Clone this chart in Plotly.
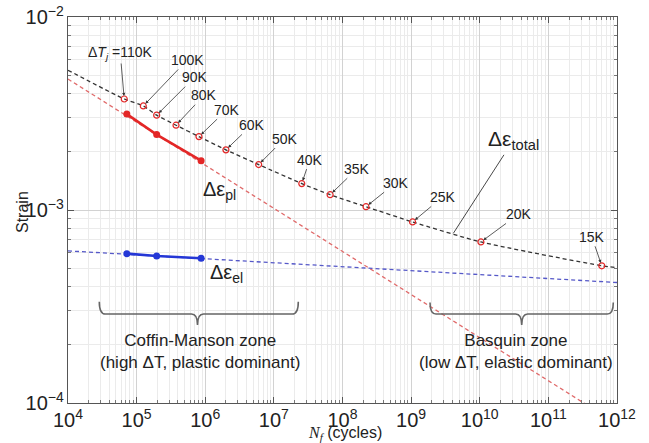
import numpy as np
import plotly.graph_objects as go

# ---------------- data ----------------
dT_labels = ["110K", "100K", "90K", "80K", "70K", "60K", "50K", "40K",
             "35K", "30K", "25K", "20K", "15K"]
Nf_total = [6.6e4, 1.25e5, 1.96e5, 3.75e5, 8.1e5, 2.0e6, 6.0e6, 2.55e7,
            6.6e7, 2.2e8, 1.05e9, 1.04e10, 6.0e11]
eps_total = [3.76e-3, 3.46e-3, 3.10e-3, 2.75e-3, 2.40e-3, 2.05e-3, 1.72e-3,
             1.37e-3, 1.20e-3, 1.04e-3, 8.67e-4, 6.83e-4, 5.14e-4]

Nf_meas = [7.2e4, 1.96e5, 8.7e5]
eps_pl = [3.14e-3, 2.46e-3, 1.80e-3]
eps_el = [5.94e-4, 5.78e-4, 5.62e-4]

fit_N = [1e4, 1e12]
fit_pl = [4.77e-3, 7.8e-5]
fit_el = [6.14e-4, 4.21e-4]
total_end_N = [1e4, 1e12]
total_end_eps = [5.30e-3, 5.03e-4]

total_pointer = (4.12e9, 7.57e-4)

# ---------------- layout constants ----------------
W, H = 649, 443
ML, MR, MT, MB = 68, 32, 17, 40
PW, PH = W - ML - MR, H - MT - MB


def px(x):
    return (x - ML) / PW


def py(y):
    return (H - MB - y) / PH


SANS = "Liberation Sans, Arial, sans-serif"

RED = "#e32626"
RED_DASH = "#e06a6a"
BLUE = "#2437d6"
BLUE_DASH = "#5558c8"
BLACK_DASH = "#333333"

fig = go.Figure()

# fitted curves (dashed)
fig.add_trace(go.Scatter(x=fit_N, y=fit_pl, mode="lines",
                         line=dict(color=RED_DASH, width=1.3, dash="4px,3px"),
                         showlegend=False, hoverinfo="skip"))
fig.add_trace(go.Scatter(x=fit_N, y=fit_el, mode="lines",
                         line=dict(color=BLUE_DASH, width=1.3, dash="4px,3px"),
                         showlegend=False, hoverinfo="skip"))
tot_x = [total_end_N[0]] + Nf_total + [total_end_N[1]]
tot_y = [total_end_eps[0]] + eps_total + [total_end_eps[1]]
fig.add_trace(go.Scatter(x=tot_x, y=tot_y, mode="lines",
                         line=dict(color=BLACK_DASH, width=1.3, dash="4px,3px",
                                   shape="spline", smoothing=0.6),
                         showlegend=False, hoverinfo="skip"))

# measured plastic / elastic
fig.add_trace(go.Scatter(x=Nf_meas, y=eps_pl, mode="lines+markers",
                         line=dict(color=RED, width=2.6),
                         marker=dict(color=RED, size=7),
                         showlegend=False))
fig.add_trace(go.Scatter(x=Nf_meas, y=eps_el, mode="lines+markers",
                         line=dict(color=BLUE, width=2.6),
                         marker=dict(color=BLUE, size=7),
                         showlegend=False))

# total strain markers
fig.add_trace(go.Scatter(x=Nf_total, y=eps_total, mode="markers",
                         marker=dict(symbol="circle-open", color=RED, size=6,
                                     line=dict(width=1.2, color=RED)),
                         showlegend=False))

# ---------------- annotations ----------------
offsets = [(-4, -46), (44, -46), (38, -38), (28, -30), (28, -27), (26, -25),
           (26, -26), (8, -24), (27, -26), (30, -24), (30, -25), (38, -28),
           (-10, -29)]
annotations = []
for i, (lab, n, e) in enumerate(zip(dT_labels, Nf_total, eps_total)):
    text = lab
    if i == 0:
        text = "Δ<i>T<sub>j</sub></i> =" + lab
    ax, ay = offsets[i]
    annotations.append(dict(
        x=np.log10(n), y=np.log10(e), xref="x", yref="y",
        text=text, showarrow=True, ax=ax, ay=ay,
        arrowhead=2, arrowsize=0.8, arrowwidth=0.8, arrowcolor="#333",
        standoff=3,
        font=dict(family=SANS, size=14, color="#222")))

annotations.append(dict(
    x=np.log10(total_pointer[0]), y=np.log10(total_pointer[1]), xref="x", yref="y",
    text="Δε<sub>total</sub>", showarrow=True, ax=60, ay=-93,
    arrowhead=0, arrowwidth=0.9, arrowcolor="#333",
    font=dict(family=SANS, size=21, color="#222")))


def ptext(x, y, text, size, **kw):
    d = dict(x=px(x), y=py(y), xref="paper", yref="paper", text=text,
             showarrow=False, xanchor="center", yanchor="middle",
             font=dict(family=SANS, size=size, color="#222"))
    d.update(kw)
    return d


annotations.append(ptext(219, 190, "Δε<sub>pl</sub>", 20))
annotations.append(ptext(226, 273, "Δε<sub>el</sub>", 20))
annotations.append(ptext(200, 351, "Coffin-Manson zone<br>(high ΔT, plastic dominant)", 17,
                         align="center"))
annotations.append(ptext(516, 351, "Basquin zone<br>(low ΔT, elastic dominant)", 17,
                         align="center"))
annotations.append(ptext(22, 212, "Strain", 16, textangle=-90))
annotations.append(ptext(345, 433,
                         "<span style='font-family:Liberation Serif'><i>N<sub>f</sub></i></span> (cycles)",
                         16))


def brace(x0, x1, xc, ytop, yh, ytip, r=6):
    return (f"M {px(x0)},{py(ytop)} Q {px(x0)},{py(yh)} {px(x0 + r)},{py(yh)} "
            f"L {px(xc - r)},{py(yh)} Q {px(xc)},{py(yh)} {px(xc)},{py(ytip)} "
            f"M {px(xc)},{py(ytip)} Q {px(xc)},{py(yh)} {px(xc + r)},{py(yh)} "
            f"L {px(x1 - r)},{py(yh)} Q {px(x1)},{py(yh)} {px(x1)},{py(ytop)}")


shapes = [
    dict(type="path", xref="paper", yref="paper",
         path=brace(99.3, 298.3, 197.5, 301.7, 314, 325),
         line=dict(color="#666", width=1.6)),
    dict(type="path", xref="paper", yref="paper",
         path=brace(430, 613.3, 521.7, 302.5, 314, 325),
         line=dict(color="#666", width=1.6)),
]

axis_common = dict(
    type="log", dtick=1, exponentformat="power", automargin=False,
    showline=True, linecolor="#555", linewidth=1, mirror="allticks",
    ticks="inside", ticklen=6, tickcolor="#555",
    showgrid=True, gridcolor="#d2d2d2", gridwidth=1,
    zeroline=False,
    minor=dict(dtick="D1", ticks="inside", ticklen=3, tickcolor="#777",
               showgrid=True, gridcolor="#ebebeb", gridwidth=1),
    tickfont=dict(family=SANS, size=16, color="#222"),
)

fig.update_layout(
    width=W, height=H,
    margin=dict(l=ML, r=MR, t=MT, b=MB, pad=0, autoexpand=False),
    paper_bgcolor="white", plot_bgcolor="white",
    xaxis=dict(range=[4, 12], ticklabelstandoff=0, **axis_common),
    yaxis=dict(range=[-4, -2], **axis_common),
    annotations=annotations,
    shapes=shapes,
    showlegend=False,
)

fig.write_html("out.html", config={"displayModeBar": False},
               post_script="document.body.style.margin='0';document.body.style.overflow='hidden';")
